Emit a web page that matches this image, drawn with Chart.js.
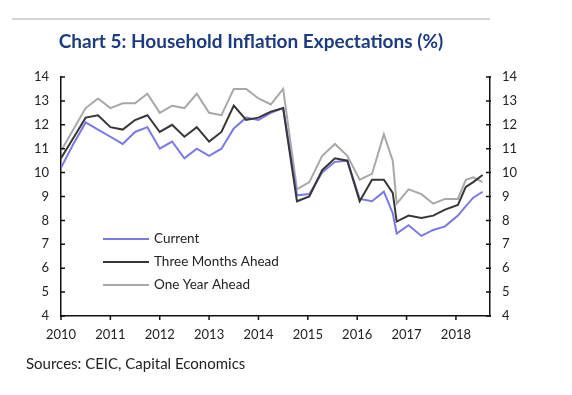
<html>
<head>
<script src="https://cdn.jsdelivr.net/npm/chart.js"></script>
<style>
  body { margin: 0; background: #fff; }
  #wrap { position: relative; width: 572px; height: 395px; }
  #rule { position: absolute; left: 12px; top: 18px; width: 478px; height: 2px; background: #d4d4d4; }
  #title { position: absolute; left: 0; width: 502px; top: 29px; text-align: center;
           font: bold 19px Lato, sans-serif; color: #1b3c80; }
  #source { position: absolute; left: 26px; top: 354px; font: 15px Lato, sans-serif; color: #222; }
  canvas { position: absolute; left: 0; top: 0; }
</style>
</head>
<body>
<div id="wrap">
  <canvas id="chart" width="572" height="395"></canvas>
  <div id="rule"></div>
  <div id="title">Chart 5: Household Inflation Expectations (%)</div>
  <div id="source">Sources: CEIC, Capital Economics</div>
</div>
<script>
// survey dates (fraction of year)
var dates = [2010.0, 2010.25, 2010.5, 2010.75, 2011.0, 2011.25, 2011.5, 2011.75,
             2012.0, 2012.25, 2012.5, 2012.75, 2013.0, 2013.25, 2013.5, 2013.75,
             2014.0, 2014.25, 2014.5, 2014.78, 2015.03, 2015.29, 2015.55, 2015.8,
             2016.05, 2016.3, 2016.54, 2016.72, 2016.8, 2017.04, 2017.3, 2017.54,
             2017.78, 2018.04, 2018.2, 2018.35, 2018.54];
var current = [10.2, 11.2, 12.1, 11.8, 11.5, 11.2, 11.7, 11.9,
               11.0, 11.3, 10.6, 11.0, 10.7, 11.0, 11.85, 12.3,
               12.2, 12.5, 12.7, 9.05, 9.1, 10.0, 10.45, 10.5,
               8.9, 8.8, 9.2, 8.3, 7.45, 7.8, 7.35, 7.6,
               7.75, 8.2, 8.6, 8.95, 9.2];
var threeMonths = [10.6, 11.45, 12.3, 12.4, 11.9, 11.8, 12.2, 12.4,
                   11.7, 12.0, 11.5, 11.9, 11.3, 11.7, 12.8, 12.2,
                   12.3, 12.55, 12.7, 8.8, 9.0, 10.1, 10.6, 10.5,
                   8.8, 9.7, 9.7, 9.15, 7.95, 8.2, 8.1, 8.2,
                   8.45, 8.65, 9.4, 9.6, 9.9];
var oneYear = [10.9, 11.8, 12.7, 13.1, 12.7, 12.9, 12.9, 13.3,
               12.5, 12.8, 12.7, 13.3, 12.5, 12.4, 13.5, 13.5,
               13.1, 12.85, 13.5, 9.3, 9.6, 10.7, 11.2, 10.7,
               9.7, 9.95, 11.6, 10.5, 8.7, 9.3, 9.1, 8.7,
               8.9, 8.9, 9.7, 9.8, 9.6];
var years = [2010, 2011, 2012, 2013, 2014, 2015, 2016, 2017, 2018];
var yTicks = [4, 5, 6, 7, 8, 9, 10, 11, 12, 13, 14];

function pts(vals) {
    return vals.map(function(v, i) { return {x: dates[i], y: v}; });
}

var font = {family: 'Lato, sans-serif', size: 13};

// inward ticks on the y axes, downward on the x axis
var tickMarks = {
    id: 'tickMarks',
    afterDraw: function(chart) {
        var ctx = chart.ctx, a = chart.chartArea;
        ctx.save();
        ctx.strokeStyle = '#111';
        ctx.lineWidth = 1.5;
        ctx.beginPath();
        yTicks.forEach(function(v) {
            var y = chart.scales.y.getPixelForValue(v);
            ctx.moveTo(a.left - 1, y); ctx.lineTo(a.left + 4, y);
            ctx.moveTo(a.right - 4, y); ctx.lineTo(a.right + 1, y);
        });
        years.forEach(function(v) {
            var x = chart.scales.x.getPixelForValue(v);
            ctx.moveTo(x, a.bottom); ctx.lineTo(x, a.bottom + 4);
        });
        ctx.stroke();
        ctx.restore();
    }
};

var innerLegend = {
    id: 'innerLegend',
    afterDraw: function(chart) {
        var ctx = chart.ctx;
        ctx.save();
        ctx.font = '13.5px Lato, sans-serif';
        ctx.textBaseline = 'middle';
        chart.data.datasets.forEach(function(ds, i) {
            var y = 239 + i * 23;
            ctx.strokeStyle = ds.borderColor;
            ctx.lineWidth = 2;
            ctx.beginPath();
            ctx.moveTo(103, y); ctx.lineTo(149, y);
            ctx.stroke();
            ctx.fillStyle = '#222';
            ctx.fillText(ds.label, 154, y);
        });
        ctx.restore();
    }
};

new Chart('chart', {
    type: 'line',
    data: {
        datasets: [
            {label: 'Current', data: pts(current), borderColor: '#7a78e6', order: 2},
            {label: 'Three Months Ahead', data: pts(threeMonths), borderColor: '#363636', order: 1},
            {label: 'One Year Ahead', data: pts(oneYear), borderColor: '#a8a8a8', order: 3}
        ]
    },
    options: {
        responsive: false,
        animation: false,
        layout: {padding: {top: 77, left: 0, right: 0, bottom: 0}},
        elements: {
            point: {radius: 0},
            line: {borderWidth: 2, tension: 0}
        },
        plugins: {legend: {display: false}, tooltip: {enabled: false}},
        scales: {
            x: {
                type: 'linear',
                min: 2010,
                max: 2018.69,
                afterBuildTicks: function(s) { s.ticks = years.map(function(v) { return {value: v}; }); },
                afterFit: function(s) { s.height = 79; },
                grid: {display: false, drawTicks: false},
                border: {color: '#111', width: 1.5},
                ticks: {font: font, color: '#222', padding: 11, maxRotation: 0,
                        callback: function(v) { return String(v); }}
            },
            y: {
                position: 'left',
                min: 4, max: 14,
                afterBuildTicks: function(s) { s.ticks = yTicks.map(function(v) { return {value: v}; }); },
                afterFit: function(s) { s.width = 61; },
                grid: {display: false, drawTicks: false},
                border: {color: '#111', width: 1.5},
                ticks: {font: font, color: '#222', padding: 12}
            },
            y2: {
                position: 'right',
                min: 4, max: 14,
                afterBuildTicks: function(s) { s.ticks = yTicks.map(function(v) { return {value: v}; }); },
                afterFit: function(s) { s.width = 82; },
                grid: {display: false, drawTicks: false},
                border: {color: '#111', width: 1.5},
                ticks: {font: font, color: '#222', padding: 12}
            }
        }
    },
    plugins: [tickMarks, innerLegend]
});
</script>
</body>
</html>
